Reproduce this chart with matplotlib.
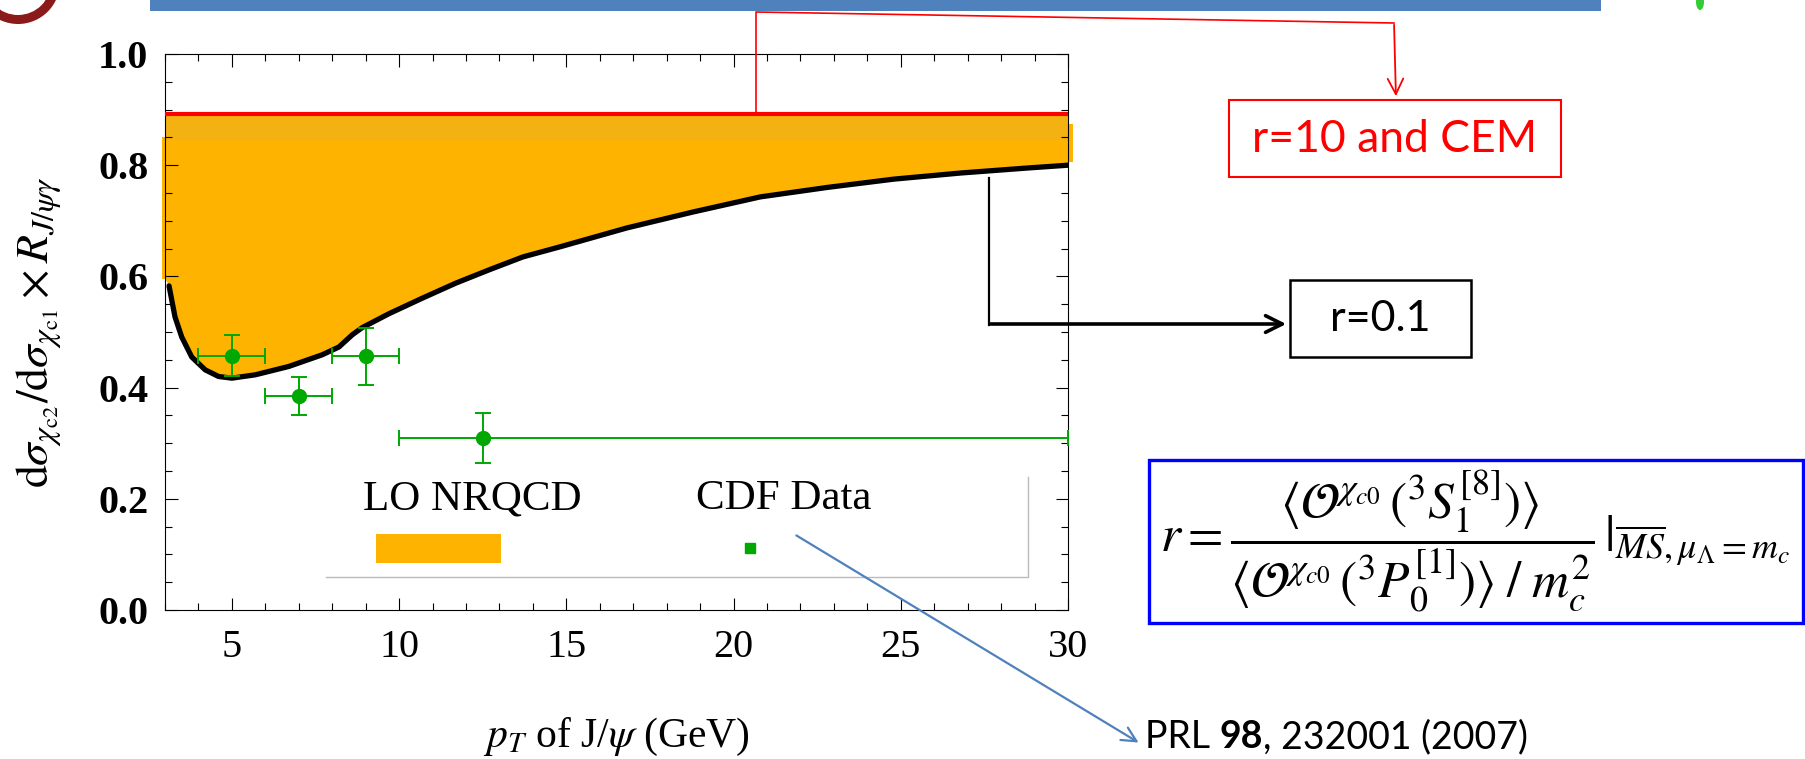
import numpy as np
import matplotlib
matplotlib.use('Agg')
import matplotlib.pyplot as plt
from matplotlib.patches import Rectangle, Circle, Ellipse

# ---- data ----
# r = 0.1 curve (black)
pt_r01 = [3.12, 3.3, 3.5, 3.8, 4.2, 4.6, 5.0, 5.7, 6.7, 7.7, 8.2, 8.6, 8.9,
          9.7, 10.7, 11.7, 12.7, 13.7, 14.8, 16.8, 18.8, 20.8, 22.8, 24.8,
          26.8, 28.8, 30.0]
ratio_r01 = [0.583, 0.527, 0.491, 0.455, 0.432, 0.420, 0.417, 0.423, 0.438,
             0.459, 0.473, 0.495, 0.508, 0.533, 0.561, 0.588, 0.612, 0.635,
             0.653, 0.687, 0.716, 0.743, 0.760, 0.775, 0.786, 0.795, 0.800]
# r = 10 and CEM (red)
pt_r10 = [3.0, 30.0]
ratio_r10 = [0.892, 0.892]
# LO NRQCD band
band_top = 0.888
band_edge = 0.845
band_left = 0.596

# CDF data
cdf_pt = [5.0, 7.0, 9.0, 12.5]
cdf_lo = [4.0, 6.0, 8.0, 10.0]
cdf_hi = [6.0, 8.0, 10.0, 30.0]
cdf_ratio = [0.457, 0.385, 0.456, 0.309]
cdf_err = [0.037, 0.034, 0.052, 0.045]

xticks = [5, 10, 15, 20, 25, 30]
yticks = [0.0, 0.2, 0.4, 0.6, 0.8, 1.0]

W, H = 1806, 759
ORANGE = '#FDB300'
GREEN = '#00A800'

plt.rcParams['mathtext.fontset'] = 'stix'
plt.rcParams['font.family'] = 'Liberation Serif'

fig = plt.figure(figsize=(W / 100, H / 100), dpi=100)
ax = fig.add_axes([165 / W, 1 - 610 / H, 903 / W, 556 / H])

# band
ax.fill_between(np.r_[3.0, pt_r01], np.r_[band_left, ratio_r01], band_top,
                color=ORANGE, lw=0, zorder=1)
ax.fill_between([3.0, 30.0], band_edge, band_top, color='#F4B212', lw=0, zorder=1)
ax.fill_betweenx([band_left, 0.85], 2.9, 3.0, color=ORANGE, lw=0, clip_on=False)
ax.fill_betweenx([0.805, 0.875], 30.0, 30.15, color=ORANGE, lw=0, clip_on=False)

ax.plot(pt_r10, ratio_r10, color='red', lw=3, zorder=3, solid_capstyle='butt')
ax.plot(pt_r01, ratio_r01, color='black', lw=3.8, zorder=3,
        solid_joinstyle='round', solid_capstyle='round')

xerr = [np.subtract(cdf_pt, cdf_lo), np.subtract(cdf_hi, cdf_pt)]
ax.errorbar(cdf_pt, cdf_ratio, xerr=xerr, yerr=cdf_err, fmt='o', color=GREEN,
            ms=10, elinewidth=1.4, capsize=6, capthick=1.4, zorder=4)

# hand-made legend
ax.plot([7.8, 28.8, 28.8], [0.06, 0.06, 0.239], color='#BBBBBB', lw=1, zorder=2)
ax.text(12.2, 0.2, 'LO NRQCD', ha='center', va='center', fontsize=31)
ax.text(21.5, 0.2, 'CDF Data', ha='center', va='center', fontsize=31)
ax.add_patch(Rectangle((9.32, 0.085), 3.74, 0.052, color=ORANGE, lw=0))
ax.plot([20.49], [0.112], 's', color=GREEN, ms=7)

ax.set_xlim(3, 30)
ax.set_ylim(0, 1)
ax.set_xticks(xticks)
ax.set_yticks(yticks)
ax.set_xticks(np.arange(3, 31, 1), minor=True)
ax.set_yticks(np.arange(0, 1.01, 0.05), minor=True)
ax.set_yticklabels(['%.1f' % v for v in yticks], fontweight='bold')
ax.tick_params(which='both', direction='in', top=True, right=True, width=0.8)
ax.tick_params(which='major', length=9)
ax.tick_params(which='minor', length=5)
ax.tick_params(axis='y', labelsize=29, pad=12)
ax.tick_params(axis='x', labelsize=29, pad=14)
for s in ax.spines.values():
    s.set_linewidth(0.8)

ax.set_ylabel(r'$\mathrm{d}\sigma_{\chi_{\mathrm{c2}}}/\mathrm{d}\sigma_{\chi_{\mathrm{c1}}}\times R_{J/\psi\gamma}$',
              fontsize=33)
ax.yaxis.set_label_coords(-0.112, 0.5)
ax.set_xlabel(r'$p_T$ of J/$\psi$ (GeV)', fontsize=30)
ax.xaxis.set_label_coords(0.5, -0.19)

# ---- slide annotations in pixel coordinates ----
ov = fig.add_axes([0, 0, 1, 1], zorder=5)
ov.set_xlim(0, W)
ov.set_ylim(H, 0)
ov.axis('off')

# slide header remnants
ov.add_patch(Rectangle((150, 0), 1451, 11, color='#4F81BD', lw=0))
ov.add_patch(Circle((18, -18), 42, color='#8B1A1A', lw=0))
ov.add_patch(Circle((18, -18), 33, color='white', lw=0))
ov.add_patch(Ellipse((1700, 2), 8, 16, color='#33CC33', lw=0))

# r=10 and CEM
ov.plot([756, 756, 1394], [114, 12, 23], color='red', lw=1.2)
ov.annotate('', xy=(1396, 99), xytext=(1394, 22),
            arrowprops=dict(arrowstyle='->', color='red', lw=1.3, mutation_scale=28))
ov.add_patch(Rectangle((1229, 100), 332, 77, fill=False, ec='red', lw=1.5))
ov.text(1395, 139, 'r=10 and CEM', ha='center', va='center', color='red',
        fontsize=32, family='Lato')

# r=0.1
ov.plot([989, 989], [178, 325], color='black', lw=1.6)
ov.annotate('', xy=(1289, 324), xytext=(988, 324),
            arrowprops=dict(arrowstyle='->', color='black', lw=2.6, mutation_scale=30))
ov.add_patch(Rectangle((1290, 280), 181, 77, fill=False, ec='black', lw=1.8))
ov.text(1380, 319, 'r=0.1', ha='center', va='center', color='black',
        fontsize=31, family='Lato')

# reference
ov.annotate('', xy=(1141, 744), xytext=(794, 534),
            arrowprops=dict(arrowstyle='->', color='#4F81BD', lw=1.6, mutation_scale=26))
fig.canvas.draw()
r = fig.canvas.get_renderer()
x0 = 1145
for txt, wt in [('PRL ', 'normal'), ('98', 'bold'), (', 232001 (2007)', 'normal')]:
    t = ov.text(x0, 737, txt, ha='left', va='center', fontsize=27,
                family='Lato', fontweight=wt)
    bb = t.get_window_extent(renderer=r)
    x0 += bb.width

# formula box
ov.add_patch(Rectangle((1149, 460), 654, 163, fill=False, ec='blue', lw=2.4))
ov.text(1160, 541,
        r'$r=\dfrac{\langle\mathcal{O}^{\chi_{c0}}\,({}^3S_1^{[8]})\rangle}'
        r'{\langle\mathcal{O}^{\chi_{c0}}\,({}^3P_0^{[1]})\rangle\;/\;m_c^2}'
        r'\,|_{\overline{MS},\mu_\Lambda=m_c}$',
        ha='left', va='center', fontsize=37)

fig.savefig('out.png', dpi=100)
